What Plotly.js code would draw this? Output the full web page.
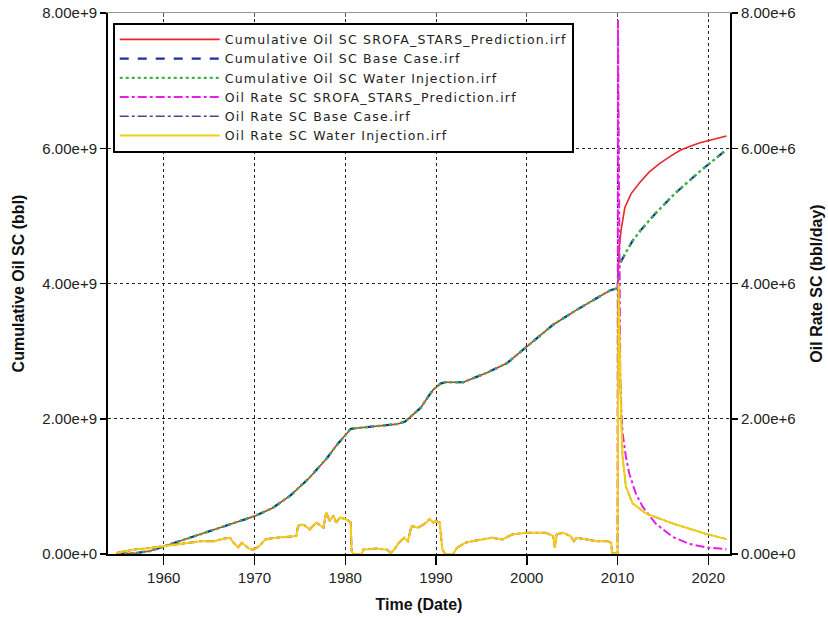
<!DOCTYPE html>
<html>
<head>
<meta charset="utf-8">
<script src="https://cdn.plot.ly/plotly-3.0.1.min.js"></script>
<style>
html,body{margin:0;padding:0;background:#fff;}
#chart{width:828px;height:618px;}
.legendtext{letter-spacing:1.2px;}
</style>
</head>
<body>
<div id="chart"></div>
<script>
// ---- Data ----
// Cumulative oil (bbl), history shared by all three cases
const cumHistYears = [1955.0,1957.0,1958.5,1960.0,1962.0,1964.0,1966.0,1968.0,1970.0,1972.0,1974.0,1976.0,1978.0,1979.0,1980.0,1980.6,1981.1,1983.8,1985.7,1986.6,1987.5,1988.3,1989.0,1989.7,1990.5,1991.0,1993.0,1995.6,1997.8,2000.0,2002.9,2005.5,2007.7,2009.2,2010.0];
const cumHist = [0,0.015e9,0.045e9,0.11e9,0.2e9,0.29e9,0.38e9,0.47e9,0.56e9,0.68e9,0.87e9,1.12e9,1.42e9,1.6e9,1.75e9,1.85e9,1.86e9,1.89e9,1.92e9,1.96e9,2.06e9,2.16e9,2.3e9,2.43e9,2.52e9,2.54e9,2.54e9,2.68e9,2.82e9,3.07e9,3.39e9,3.61e9,3.78e9,3.9e9,3.93e9];

// Cumulative oil, prediction period
const cumPredYears = [2010.08,2010.2,2010.4,2010.8,2011.5,2012.5,2013.5,2014.7,2015.8,2016.9,2018.0,2019.1,2020.5,2022.0];
const cumSrofa = [4.3e9,4.55e9,4.8e9,5.12e9,5.33e9,5.5e9,5.65e9,5.78e9,5.88e9,5.97e9,6.03e9,6.08e9,6.13e9,6.18e9];
const cumBaseYears = [2010.1,2010.2,2010.8,2011.65,2012.5,2014.2,2016.4,2019.0,2022.0];
const cumBase = [4.2e9,4.28e9,4.43e9,4.63e9,4.78e9,5.04e9,5.34e9,5.65e9,5.98e9];
const cumWater = [4.2e9,4.28e9,4.43e9,4.63e9,4.78e9,5.04e9,5.34e9,5.65e9,5.98e9];

// Oil rate (bbl/day), history shared by all three cases
const rateHistYears = [1954.8,1956.7,1958.5,1960.0,1961.5,1962.6,1964.1,1965.6,1966.7,1967.3,1967.7,1968.2,1968.6,1969.4,1969.9,1970.5,1971.2,1972.3,1973.5,1974.6,1974.8,1975.3,1976.1,1976.8,1977.6,1977.9,1978.3,1978.7,1979.0,1979.4,1980.0,1980.4,1980.6,1980.7,1980.9,1981.8,1982.0,1983.5,1984.6,1985.0,1985.4,1985.9,1986.5,1986.9,1987.3,1988.0,1988.7,1989.3,1989.7,1990.0,1990.4,1990.7,1991.0,1991.9,1992.3,1993.2,1994.0,1995.1,1996.2,1997.3,1998.4,1999.9,2001.0,2002.1,2002.9,2003.1,2003.3,2004.0,2004.8,2005.2,2005.5,2006.6,2007.7,2008.9,2009.3,2009.4,2010.0];
const rateHist = [0.015e6,0.065e6,0.09e6,0.115e6,0.14e6,0.165e6,0.19e6,0.19e6,0.23e6,0.24e6,0.165e6,0.1e6,0.165e6,0.08e6,0.065e6,0.115e6,0.215e6,0.24e6,0.25e6,0.265e6,0.415e6,0.44e6,0.365e6,0.465e6,0.39e6,0.615e6,0.49e6,0.565e6,0.465e6,0.54e6,0.515e6,0.49e6,0.465e6,0.04e6,0,0,0.065e6,0.08e6,0.065e6,0.015e6,0.065e6,0.165e6,0.24e6,0.19e6,0.415e6,0.39e6,0.44e6,0.515e6,0.465e6,0.49e6,0.465e6,0.065e6,0,0,0.09e6,0.165e6,0.19e6,0.215e6,0.24e6,0.215e6,0.29e6,0.315e6,0.315e6,0.315e6,0.265e6,0.09e6,0.29e6,0.315e6,0.265e6,0.19e6,0.24e6,0.215e6,0.19e6,0.19e6,0.165e6,0.015e6,0];

// Oil rate, prediction period
const rateSrofaYears = [2010.05,2010.12,2010.2,2010.3,2010.4,2010.55,2010.92,2011.29,2012.0,2012.76,2014.2,2016.1,2017.9,2019.7,2022.0];
const rateSrofa = [7.9e6,6.0e6,4.0e6,2.6e6,2.2e6,1.79e6,1.44e6,1.19e6,0.9e6,0.7e6,0.45e6,0.25e6,0.15e6,0.1e6,0.07e6];
const rateBaseYears = [2010.1,2010.2,2010.26,2010.37,2010.55,2010.92,2011.65,2013.1,2016.1,2019.7,2022.0];
const rateBase = [4.0e6,3.2e6,2.9e6,2.19e6,1.44e6,1.0e6,0.75e6,0.6e6,0.45e6,0.3e6,0.22e6];
const rateWater = [4.0e6,3.2e6,2.9e6,2.19e6,1.44e6,1.0e6,0.75e6,0.6e6,0.45e6,0.3e6,0.22e6];

// Axis ticks
const xTicks = [1960,1970,1980,1990,2000,2010,2020];
const yLeftTicks = [0,2e9,4e9,6e9,8e9];
const yLeftLabels = ["0.00e+0","2.00e+9","4.00e+9","6.00e+9","8.00e+9"];
const yRightTicks = [0,2e6,4e6,6e6,8e6];
const yRightLabels = ["0.00e+0","2.00e+6","4.00e+6","6.00e+6","8.00e+6"];

const names = [
  "Cumulative Oil SC SROFA_STARS_Prediction.irf",
  "Cumulative Oil SC Base Case.irf",
  "Cumulative Oil SC Water Injection.irf",
  "Oil Rate SC SROFA_STARS_Prediction.irf",
  "Oil Rate SC Base Case.irf",
  "Oil Rate SC Water Injection.irf"
];

// ---- Traces ----
const traces = [
  {x: cumHistYears.concat(cumPredYears), y: cumHist.concat(cumSrofa), name: names[0], yaxis:'y',
   mode:'lines', line:{color:'#e8262a', width:1.6, dash:'solid'}},
  {x: cumHistYears.concat(cumBaseYears), y: cumHist.concat(cumBase), name: names[1], yaxis:'y',
   mode:'lines', line:{color:'#1d2fa8', width:2.2, dash:'dash'}},
  {x: cumHistYears.concat(cumBaseYears), y: cumHist.concat(cumWater), name: names[2], yaxis:'y',
   mode:'lines', line:{color:'#3cb44a', width:2.4, dash:'dot'}},
  {x: rateHistYears.concat(rateSrofaYears), y: rateHist.concat(rateSrofa), name: names[3], yaxis:'y2',
   mode:'lines', line:{color:'#e61ee6', width:2, dash:'dashdot'}},
  {x: rateHistYears.concat(rateBaseYears), y: rateHist.concat(rateBase), name: names[4], yaxis:'y2',
   mode:'lines', line:{color:'#404a8a', width:1.5, dash:'dashdot'}},
  {x: rateHistYears.concat(rateBaseYears), y: rateHist.concat(rateWater), name: names[5], yaxis:'y2',
   mode:'lines', line:{color:'#f2cf10', width:2, dash:'solid'}}
];

const fontFam = 'Arial, "Liberation Sans", sans-serif';

const layout = {
  width: 828, height: 618,
  margin: {l:108, r:98, t:13, b:64, pad:0},
  paper_bgcolor:'#ffffff', plot_bgcolor:'#ffffff',
  font: {family: fontFam, size: 14, color:'#111'},
  showlegend: true,
  legend: {
    x: 0.0076, y: 0.982, xanchor:'left', yanchor:'top',
    bgcolor:'#ffffff', bordercolor:'#000000', borderwidth:2,
    font:{family: '"DejaVu Sans", sans-serif', size:12.5, color:'#222'},
    itemwidth: 100, tracegroupgap: 0
  },
  xaxis: {
    range:[1953.86, 2022.39], tickvals: xTicks, ticktext: xTicks.map(String),
    showgrid:true, gridcolor:'#222', griddash:'3px,3px', gridwidth:1,
    zeroline:false, showline:true, linecolor:'#000', linewidth:2,
    ticks:'outside', ticklen:9, tickcolor:'#000', tickwidth:1.5,
    tickfont:{family: fontFam, size:15, color:'#222'},
    title:{text:'<b>Time (Date)</b>', font:{family: fontFam, size:16, color:'#111'}, standoff:14}
  },
  xaxis2: {
    overlaying:'x', side:'top', matches:'x', range:[1953.86, 2022.39],
    tickvals: xTicks, showticklabels:false, showgrid:false, zeroline:false,
    showline:true, linecolor:'#999', linewidth:1,
    ticks:'inside', ticklen:4, tickcolor:'#555'
  },
  yaxis: {
    range:[0, 8e9], tickvals: yLeftTicks, ticktext: yLeftLabels,
    showgrid:true, gridcolor:'#222', griddash:'3px,3px', gridwidth:1,
    zeroline:false, showline:true, linecolor:'#000', linewidth:2,
    ticks:'outside', ticklen:6, tickcolor:'#000', tickwidth:1.5,
    tickfont:{family: fontFam, size:15, color:'#222'},
    title:{text:'<b>Cumulative Oil SC (bbl)</b>', font:{family: fontFam, size:16, color:'#111'}, standoff:14}
  },
  yaxis2: {
    overlaying:'y', side:'right', range:[0, 8e6], tickvals: yRightTicks, ticktext: yRightLabels,
    showgrid:false, zeroline:false, showline:true, linecolor:'#000', linewidth:2,
    ticks:'outside', ticklen:6, tickcolor:'#000', tickwidth:1.5,
    tickfont:{family: fontFam, size:15, color:'#222'},
    title:{text:'<b>Oil Rate SC (bbl/day)</b>', font:{family: fontFam, size:16, color:'#111'}, standoff:16}
  }
};

// invisible point on x2 so the top axis frame is drawn
traces.push({x:[1960], y:[0], xaxis:'x2', yaxis:'y', mode:'markers', marker:{opacity:0}, showlegend:false, hoverinfo:'skip'});

Plotly.newPlot('chart', traces, layout, {displayModeBar:false, staticPlot:true});
</script>
</body>
</html>
